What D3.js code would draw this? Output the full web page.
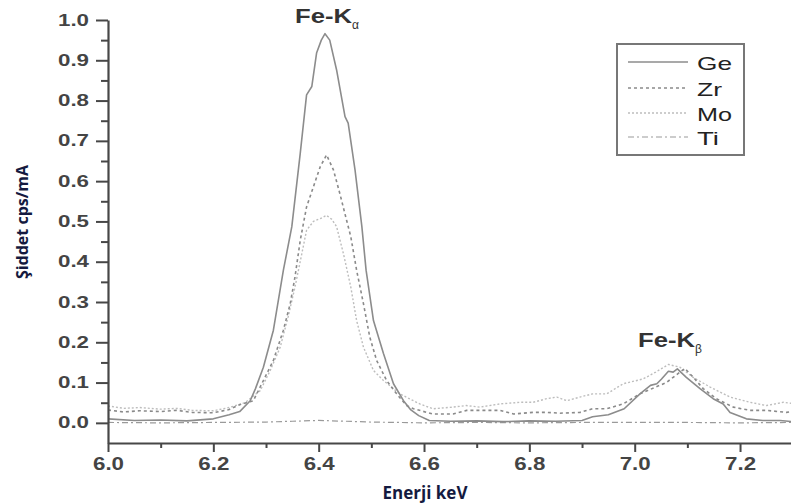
<!DOCTYPE html>
<html>
<head>
<meta charset="utf-8">
<script src="https://cdn.jsdelivr.net/npm/d3@7"></script>
<style>
  body { margin: 0; background: #fff; }
  svg { display: block; }
</style>
</head>
<body>
<svg id="chart" width="791" height="504"></svg>
<script>
// energy (keV), intensity (cps/mA)
var ge = [[6.00,0.010],[6.05,0.006],[6.10,0.007],[6.15,0.005],[6.20,0.010],[6.23,0.020],[6.25,0.028],
  [6.27,0.055],[6.28,0.085],[6.295,0.138],[6.314,0.230],[6.333,0.379],[6.349,0.487],[6.365,0.669],
  [6.377,0.814],[6.387,0.835],[6.396,0.918],[6.405,0.950],[6.412,0.966],[6.421,0.950],[6.434,0.876],
  [6.45,0.760],[6.456,0.744],[6.469,0.628],[6.482,0.487],[6.49,0.379],[6.504,0.254],[6.523,0.172],
  [6.542,0.097],[6.561,0.055],[6.575,0.032],[6.59,0.018],[6.61,0.006],[6.65,0.004],[6.70,0.005],
  [6.75,0.003],[6.80,0.005],[6.85,0.004],[6.90,0.006],[6.92,0.015],[6.95,0.020],[6.98,0.035],
  [7.01,0.072],[7.03,0.093],[7.042,0.097],[7.051,0.109],[7.064,0.128],[7.073,0.126],[7.081,0.134],
  [7.098,0.113],[7.124,0.085],[7.149,0.060],[7.168,0.047],[7.181,0.026],[7.212,0.010],[7.243,0.006],
  [7.276,0.006],[7.30,0.003]];

var zr = [[6.00,0.032],[6.03,0.027],[6.06,0.030],[6.10,0.028],[6.13,0.031],[6.16,0.026],[6.20,0.025],
  [6.23,0.033],[6.25,0.045],[6.276,0.055],[6.295,0.105],[6.314,0.155],[6.333,0.230],[6.346,0.296],
  [6.355,0.362],[6.365,0.453],[6.377,0.536],[6.39,0.586],[6.403,0.636],[6.415,0.665],[6.428,0.628],
  [6.44,0.570],[6.453,0.503],[6.461,0.462],[6.472,0.379],[6.485,0.296],[6.497,0.213],[6.51,0.155],
  [6.529,0.105],[6.548,0.072],[6.567,0.043],[6.58,0.035],[6.617,0.022],[6.655,0.022],[6.681,0.031],
  [6.719,0.031],[6.744,0.031],[6.77,0.022],[6.807,0.026],[6.833,0.026],[6.858,0.024],[6.896,0.026],
  [6.92,0.035],[6.947,0.035],[6.978,0.047],[7.01,0.072],[7.04,0.089],[7.06,0.100],[7.075,0.115],
  [7.095,0.135],[7.11,0.115],[7.13,0.085],[7.155,0.060],[7.187,0.039],[7.219,0.031],[7.25,0.031],
  [7.288,0.026],[7.30,0.028]];

var mo = [[6.00,0.042],[6.03,0.036],[6.06,0.038],[6.10,0.034],[6.13,0.036],[6.16,0.031],[6.20,0.030],
  [6.23,0.038],[6.26,0.050],[6.289,0.080],[6.308,0.130],[6.327,0.188],[6.342,0.263],[6.355,0.337],
  [6.368,0.420],[6.377,0.478],[6.39,0.500],[6.403,0.507],[6.415,0.515],[6.425,0.505],[6.434,0.487],
  [6.447,0.420],[6.461,0.337],[6.472,0.254],[6.485,0.188],[6.504,0.130],[6.523,0.105],[6.554,0.072],
  [6.592,0.047],[6.617,0.035],[6.655,0.039],[6.68,0.043],[6.706,0.039],[6.744,0.047],[6.782,0.051],
  [6.807,0.051],[6.833,0.060],[6.852,0.064],[6.871,0.055],[6.896,0.064],[6.92,0.072],[6.947,0.072],
  [6.978,0.097],[7.016,0.109],[7.04,0.126],[7.064,0.145],[7.086,0.138],[7.111,0.113],[7.143,0.089],
  [7.181,0.064],[7.219,0.051],[7.25,0.043],[7.282,0.051],[7.30,0.048]];

var ti = [[6.00,0.001],[6.10,0.000],[6.20,0.001],[6.30,0.002],[6.35,0.004],[6.40,0.006],[6.45,0.004],
  [6.50,0.002],[6.60,0.000],[6.70,0.001],[6.80,0.000],[6.90,0.001],[7.00,0.001],[7.10,0.001],
  [7.20,0.000],[7.30,0.001]];

var seriesNames = ['Ge', 'Zr', 'Mo', 'Ti'];
var seriesData = [ge, zr, mo, ti];
var xMajor = [6.0, 6.2, 6.4, 6.6, 6.8, 7.0, 7.2];
var xMinor = [6.1, 6.3, 6.5, 6.7, 6.9, 7.1, 7.3];
var yMajor = [0.0, 0.1, 0.2, 0.3, 0.4, 0.5, 0.6, 0.7, 0.8, 0.9, 1.0];
var yMinor = [0.05, 0.15, 0.25, 0.35, 0.45, 0.55, 0.65, 0.75, 0.85, 0.95];

var styles = [
  { stroke: '#8c8c8c', width: 1.6, dash: null },
  { stroke: '#8a8a8a', width: 1.6, dash: '3,3' },
  { stroke: '#bdbdbd', width: 1.4, dash: '2,2' },
  { stroke: '#9a9a9a', width: 1.2, dash: '6,3,2,3' }
];

var svg = d3.select('#chart');
var plotLeft = 108, plotTop = 20, plotBottom = 443;

var x = d3.scaleLinear().domain([6.0, 7.3]).range([plotLeft, plotLeft + 1.3 * 526.7]);
var y = d3.scaleLinear().domain([-0.05, 1.0]).range([plotBottom, plotTop]);

svg.append('clipPath').attr('id', 'plot')
  .append('rect').attr('x', plotLeft).attr('y', 0).attr('width', 800).attr('height', plotBottom);

var line = d3.line()
  .x(function (d) { return x(d[0]); })
  .y(function (d) { return y(d[1]); });

var plot = svg.append('g').attr('clip-path', 'url(#plot)');

// draw Ti first, Ge last so the solid line sits on top
[3, 2, 1, 0].forEach(function (i) {
  plot.append('path')
    .datum(seriesData[i])
    .attr('fill', 'none')
    .attr('stroke', styles[i].stroke)
    .attr('stroke-width', styles[i].width)
    .attr('stroke-dasharray', styles[i].dash)
    .attr('stroke-linejoin', 'round')
    .attr('d', line);
});

var axisColor = '#474747';
var tickFont = 'Liberation Sans, Arial, sans-serif';

// minor ticks first
svg.append('g')
  .attr('transform', 'translate(0,' + plotBottom + ')')
  .call(d3.axisBottom(x).tickValues(xMinor).tickSize(5).tickFormat(''))
  .call(function (g) { g.select('.domain').remove(); });

svg.append('g')
  .attr('transform', 'translate(' + plotLeft + ',0)')
  .call(d3.axisLeft(y).tickValues(yMinor).tickSize(7).tickFormat(''))
  .call(function (g) { g.select('.domain').remove(); });

var xAxis = svg.append('g')
  .attr('transform', 'translate(0,' + plotBottom + ')')
  .call(d3.axisBottom(x).tickValues(xMajor).tickSize(9).tickSizeOuter(0).tickPadding(5).tickFormat(d3.format('.1f')));

var yAxis = svg.append('g')
  .attr('transform', 'translate(' + plotLeft + ',0)')
  .call(d3.axisLeft(y).tickValues(yMajor).tickSize(12).tickSizeOuter(0).tickPadding(7).tickFormat(d3.format('.1f')));

svg.selectAll('.tick line').attr('stroke', axisColor).attr('stroke-width', 2);
svg.selectAll('.domain').attr('stroke', axisColor).attr('stroke-width', 2.2);

xAxis.selectAll('text')
  .attr('font-family', tickFont)
  .attr('font-weight', 'bold')
  .attr('font-size', 18)
  .attr('fill', '#444')
  .attr('textLength', 31)
  .attr('lengthAdjust', 'spacingAndGlyphs');

yAxis.selectAll('text')
  .attr('font-family', tickFont)
  .attr('font-weight', 'bold')
  .attr('font-size', 16)
  .attr('fill', '#444')
  .attr('textLength', 31)
  .attr('lengthAdjust', 'spacingAndGlyphs');

// axis titles
svg.append('text')
  .attr('x', 425).attr('y', 499)
  .attr('text-anchor', 'middle')
  .attr('font-family', 'Open Sans, sans-serif')
  .attr('font-weight', 'bold')
  .attr('font-size', 17)
  .attr('fill', '#141a40')
  .text('Enerji keV');

svg.append('text')
  .attr('transform', 'translate(28,222) rotate(-90)')
  .attr('text-anchor', 'middle')
  .attr('font-family', 'Open Sans, sans-serif')
  .attr('font-weight', 'bold')
  .attr('font-size', 16)
  .attr('fill', '#141a40')
  .text('Şiddet cps/mA');

// peak labels
function peakLabel(px, py, sub) {
  var t = svg.append('text')
    .attr('x', px).attr('y', py)
    .attr('font-family', tickFont)
    .attr('font-weight', 'bold')
    .attr('font-size', 20)
    .attr('fill', '#333');
  t.append('tspan').attr('textLength', 57).attr('lengthAdjust', 'spacingAndGlyphs').text('Fe-K');
  t.append('tspan').attr('dy', 6).attr('font-size', 12).attr('font-weight', 'normal').attr('fill', '#333').text(sub);
}
peakLabel(295, 23, 'α');
peakLabel(638, 347, 'β');

// legend
var legend = svg.append('g');
legend.append('rect')
  .attr('x', 617).attr('y', 44)
  .attr('width', 127).attr('height', 111)
  .attr('fill', '#fff')
  .attr('stroke', '#777')
  .attr('stroke-width', 2);

var legendY = [62, 88, 113, 137];
var legendW = [35, 25, 35, 22];
seriesNames.forEach(function (name, i) {
  legend.append('line')
    .attr('x1', 628).attr('x2', 688)
    .attr('y1', legendY[i]).attr('y2', legendY[i])
    .attr('stroke', styles[i].stroke)
    .attr('stroke-width', styles[i].width)
    .attr('stroke-dasharray', styles[i].dash);
  legend.append('text')
    .attr('x', 697).attr('y', legendY[i] + 8)
    .attr('font-family', tickFont)
    .attr('font-size', 19)
    .attr('fill', '#222')
    .attr('textLength', legendW[i])
    .attr('lengthAdjust', 'spacingAndGlyphs')
    .text(name);
});
</script>
</body>
</html>
